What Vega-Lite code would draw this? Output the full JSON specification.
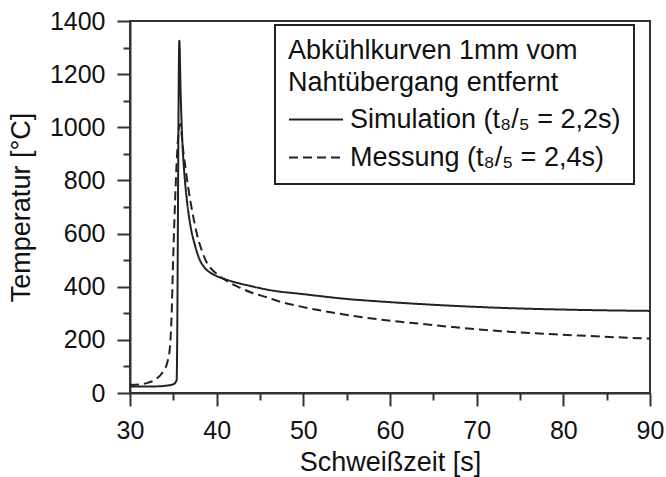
{
  "$schema": "https://vega.github.io/schema/vega-lite/v6.json",
  "width": 520,
  "height": 372,
  "autosize": "none",
  "padding": {"left": 130, "top": 21, "right": 16, "bottom": 84},
  "background": "white",
  "config": {
    "font": "Liberation Sans",
    "view": {"stroke": "#333", "strokeWidth": 2},
    "axis": {
      "domainColor": "#333", "domainWidth": 2,
      "tickColor": "#333", "tickWidth": 2,
      "labelFont": "Liberation Sans", "labelFontSize": 25, "labelColor": "#111",
      "titleFont": "Liberation Sans", "titleFontSize": 27, "titleFontWeight": "normal", "titleColor": "#111",
      "grid": false
    },
    "legend": {
      "labelFont": "Liberation Sans", "titleFont": "Liberation Sans", "strokeWidth": 2
    }
  },
  "data": {
    "values": [
      {"series": "Simulation (t₈/₅ = 2,2s)", "t": 30, "T": 24},
      {"series": "Simulation (t₈/₅ = 2,2s)", "t": 32, "T": 24},
      {"series": "Simulation (t₈/₅ = 2,2s)", "t": 34, "T": 27},
      {"series": "Simulation (t₈/₅ = 2,2s)", "t": 35, "T": 33},
      {"series": "Simulation (t₈/₅ = 2,2s)", "t": 35.38, "T": 48},
      {"series": "Simulation (t₈/₅ = 2,2s)", "t": 35.69, "T": 1326},
      {"series": "Simulation (t₈/₅ = 2,2s)", "t": 35.85, "T": 1120},
      {"series": "Simulation (t₈/₅ = 2,2s)", "t": 36.05, "T": 940},
      {"series": "Simulation (t₈/₅ = 2,2s)", "t": 36.3, "T": 815},
      {"series": "Simulation (t₈/₅ = 2,2s)", "t": 36.6, "T": 715},
      {"series": "Simulation (t₈/₅ = 2,2s)", "t": 37.0, "T": 625},
      {"series": "Simulation (t₈/₅ = 2,2s)", "t": 37.5, "T": 555},
      {"series": "Simulation (t₈/₅ = 2,2s)", "t": 38.0, "T": 505},
      {"series": "Simulation (t₈/₅ = 2,2s)", "t": 38.6, "T": 472},
      {"series": "Simulation (t₈/₅ = 2,2s)", "t": 39.3, "T": 452},
      {"series": "Simulation (t₈/₅ = 2,2s)", "t": 40, "T": 440},
      {"series": "Simulation (t₈/₅ = 2,2s)", "t": 41, "T": 428},
      {"series": "Simulation (t₈/₅ = 2,2s)", "t": 42, "T": 418},
      {"series": "Simulation (t₈/₅ = 2,2s)", "t": 44, "T": 402},
      {"series": "Simulation (t₈/₅ = 2,2s)", "t": 46, "T": 388},
      {"series": "Simulation (t₈/₅ = 2,2s)", "t": 50, "T": 372},
      {"series": "Simulation (t₈/₅ = 2,2s)", "t": 55, "T": 354},
      {"series": "Simulation (t₈/₅ = 2,2s)", "t": 60, "T": 342},
      {"series": "Simulation (t₈/₅ = 2,2s)", "t": 65, "T": 332},
      {"series": "Simulation (t₈/₅ = 2,2s)", "t": 70, "T": 324},
      {"series": "Simulation (t₈/₅ = 2,2s)", "t": 75, "T": 318},
      {"series": "Simulation (t₈/₅ = 2,2s)", "t": 80, "T": 314},
      {"series": "Simulation (t₈/₅ = 2,2s)", "t": 85, "T": 311},
      {"series": "Simulation (t₈/₅ = 2,2s)", "t": 90, "T": 309},
      {"series": "Messung (t₈/₅ = 2,4s)", "t": 30, "T": 30},
      {"series": "Messung (t₈/₅ = 2,4s)", "t": 31, "T": 32},
      {"series": "Messung (t₈/₅ = 2,4s)", "t": 32, "T": 38},
      {"series": "Messung (t₈/₅ = 2,4s)", "t": 33, "T": 52},
      {"series": "Messung (t₈/₅ = 2,4s)", "t": 33.8, "T": 80},
      {"series": "Messung (t₈/₅ = 2,4s)", "t": 34.3, "T": 115},
      {"series": "Messung (t₈/₅ = 2,4s)", "t": 34.6, "T": 170},
      {"series": "Messung (t₈/₅ = 2,4s)", "t": 34.8, "T": 290},
      {"series": "Messung (t₈/₅ = 2,4s)", "t": 34.95, "T": 470},
      {"series": "Messung (t₈/₅ = 2,4s)", "t": 35.2, "T": 720},
      {"series": "Messung (t₈/₅ = 2,4s)", "t": 35.45, "T": 910},
      {"series": "Messung (t₈/₅ = 2,4s)", "t": 35.77, "T": 1012},
      {"series": "Messung (t₈/₅ = 2,4s)", "t": 36.15, "T": 910},
      {"series": "Messung (t₈/₅ = 2,4s)", "t": 36.7, "T": 777},
      {"series": "Messung (t₈/₅ = 2,4s)", "t": 37.2, "T": 680},
      {"series": "Messung (t₈/₅ = 2,4s)", "t": 37.7, "T": 601},
      {"series": "Messung (t₈/₅ = 2,4s)", "t": 38.3, "T": 535},
      {"series": "Messung (t₈/₅ = 2,4s)", "t": 38.9, "T": 488},
      {"series": "Messung (t₈/₅ = 2,4s)", "t": 39.6, "T": 460},
      {"series": "Messung (t₈/₅ = 2,4s)", "t": 40.4, "T": 438},
      {"series": "Messung (t₈/₅ = 2,4s)", "t": 41.5, "T": 415},
      {"series": "Messung (t₈/₅ = 2,4s)", "t": 42.7, "T": 396},
      {"series": "Messung (t₈/₅ = 2,4s)", "t": 44, "T": 378},
      {"series": "Messung (t₈/₅ = 2,4s)", "t": 45.8, "T": 360},
      {"series": "Messung (t₈/₅ = 2,4s)", "t": 47.5, "T": 342},
      {"series": "Messung (t₈/₅ = 2,4s)", "t": 49.6, "T": 326},
      {"series": "Messung (t₈/₅ = 2,4s)", "t": 53.5, "T": 302},
      {"series": "Messung (t₈/₅ = 2,4s)", "t": 57.3, "T": 283},
      {"series": "Messung (t₈/₅ = 2,4s)", "t": 61.2, "T": 268},
      {"series": "Messung (t₈/₅ = 2,4s)", "t": 64.6, "T": 257},
      {"series": "Messung (t₈/₅ = 2,4s)", "t": 67.3, "T": 248},
      {"series": "Messung (t₈/₅ = 2,4s)", "t": 71, "T": 237},
      {"series": "Messung (t₈/₅ = 2,4s)", "t": 75, "T": 228},
      {"series": "Messung (t₈/₅ = 2,4s)", "t": 79, "T": 221},
      {"series": "Messung (t₈/₅ = 2,4s)", "t": 82.7, "T": 215},
      {"series": "Messung (t₈/₅ = 2,4s)", "t": 86, "T": 210},
      {"series": "Messung (t₈/₅ = 2,4s)", "t": 90, "T": 205}
    ]
  },
  "mark": {"type": "line", "interpolate": "monotone", "strokeWidth": 2, "color": "#222", "clip": true},
  "encoding": {
    "x": {
      "field": "t", "type": "quantitative",
      "scale": {"domain": [30, 90], "nice": false, "zero": false},
      "axis": {
        "title": "Schweißzeit [s]",
        "values": [30, 35, 40, 45, 50, 55, 60, 65, 70, 75, 80, 85, 90],
        "labelExpr": "datum.value % 10 === 0 ? datum.label : ''",
        "tickSize": {"condition": {"test": "datum.value % 10 === 0", "value": 13}, "value": 7},
        "labelPadding": 12,
        "titlePadding": 6,
        "labelFlush": false,
        "labelOverlap": false
      }
    },
    "y": {
      "field": "T", "type": "quantitative",
      "scale": {"domain": [0, 1400], "nice": false},
      "axis": {
        "title": "Temperatur [°C]",
        "values": [0, 100, 200, 300, 400, 500, 600, 700, 800, 900, 1000, 1100, 1200, 1300, 1400],
        "labelExpr": "datum.value % 200 === 0 ? datum.label : ''",
        "tickSize": {"condition": {"test": "datum.value % 200 === 0", "value": 13}, "value": 7},
        "labelPadding": 12,
        "titlePadding": 14,
        "labelOverlap": false,
        "format": "d"
      }
    },
    "strokeDash": {
      "field": "series", "type": "nominal",
      "scale": {
        "domain": ["Simulation (t₈/₅ = 2,2s)", "Messung (t₈/₅ = 2,4s)"],
        "range": [[1, 0], [9, 5]]
      },
      "legend": {
        "orient": "none",
        "legendX": 145,
        "legendY": 4,
        "title": ["Abkühlkurven 1mm vom", "Nahtübergang entfernt"],
        "titleFontSize": 27,
        "titleFontWeight": "normal",
        "titleColor": "#111",
        "titleLineHeight": 32,
        "titlePadding": 8,
        "titleLimit": 500,
        "labelFontSize": 27,
        "labelColor": "#111",
        "labelOffset": 33,
        "labelLimit": 500,
        "symbolType": "M-1,0H3",
        "symbolSize": 729,
        "symbolStrokeWidth": 2,
        "symbolStrokeColor": "#222",
        "rowPadding": 10,
        "padding": 13,
        "strokeColor": "#222",
        "fillColor": "white"
      }
    }
  }
}
